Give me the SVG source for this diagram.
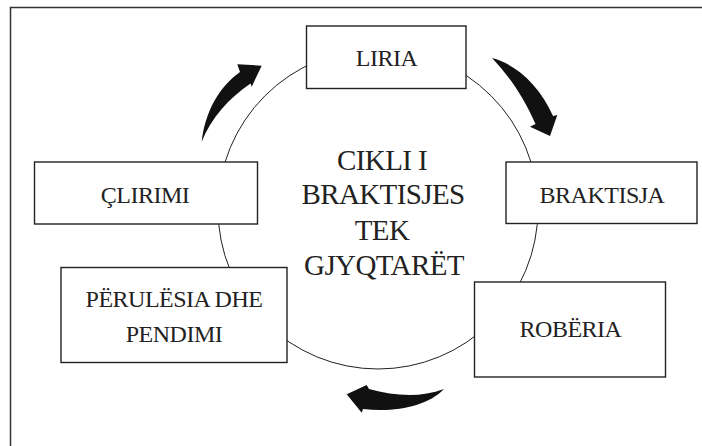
<svg xmlns="http://www.w3.org/2000/svg" width="702" height="446" viewBox="0 0 702 446">
<style>
.frame{fill:none;stroke:#333;stroke-width:1.5}
.box{fill:#fff;stroke:#222;stroke-width:1.4}
.ring{fill:none;stroke:#222;stroke-width:1}
.arrow{fill:#111;stroke:none}
text{font-family:"Liberation Serif","Times New Roman",serif;fill:#222;text-anchor:middle}
.lbl{font-size:24px;letter-spacing:-0.5px}
.title{font-size:29px;letter-spacing:-0.6px}
</style>
<rect width="702" height="446" fill="#fff"/>
<rect class="frame" x="10.5" y="7.5" width="760" height="500"/>
<g id="connectors">
<circle class="ring" cx="378" cy="209" r="160"/>
<path class="arrow" d="M201.7,141.7 C205,112 219,87 240,72 L237.3,64.3 L261.7,65.7 L251.7,86.7 L250.5,83.5 C229,98 211,118 201.7,141.7 Z"/>
<path class="arrow" d="M492,58 C515,64 539,84 553,116 L557.3,115 L550,136 L530,126.7 L535.5,124 C524,98 510,77 492,58 Z"/>
<path class="arrow" d="M444,389 C420,398 395,396 369,389 L366.7,385 L346.7,394.3 L361.7,412.7 L363,409 C395,413 428,406 444,389 Z"/>
</g>
<g id="center">
<text class="title" x="382" y="170">CIKLI I</text>
<text class="title" x="383" y="204">BRAKTISJES</text>
<text class="title" x="382" y="240">TEK</text>
<text class="title" x="384" y="275">GJYQTARËT</text>
</g>
<g id="liria">
<rect class="box" x="306.5" y="26" width="159.5" height="62.5"/>
<text class="lbl" x="386.5" y="66">LIRIA</text>
</g>
<g id="braktisja">
<rect class="box" x="506" y="162" width="191" height="61.5"/>
<text class="lbl" x="602" y="203">BRAKTISJA</text>
</g>
<g id="roberia">
<rect class="box" x="474.5" y="282" width="191" height="95"/>
<text class="lbl" x="570.5" y="336.5">ROBËRIA</text>
</g>
<g id="perulesia">
<rect class="box" x="61" y="267.5" width="226" height="95"/>
<text class="lbl" x="174" y="306.5">PËRULËSIA DHE</text>
<text class="lbl" x="174" y="341.5">PENDIMI</text>
</g>
<g id="clirimi">
<rect class="box" x="34.5" y="162" width="223" height="62"/>
<text class="lbl" x="145" y="203">ÇLIRIMI</text>
</g>
</svg>
